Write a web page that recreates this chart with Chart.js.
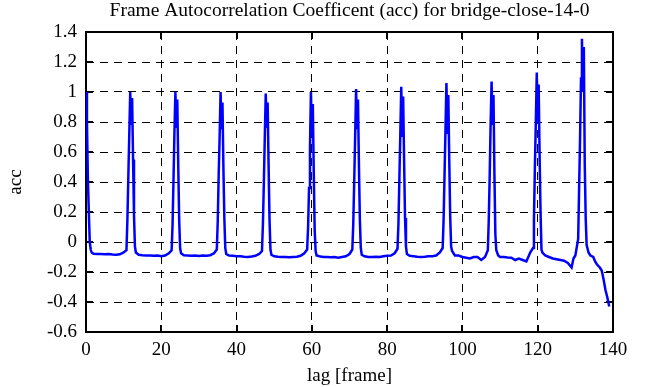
<!DOCTYPE html>
<html>
<head>
<meta charset="utf-8">
<script src="https://cdn.jsdelivr.net/npm/chart.js"></script>
<style>
  body { margin: 0; background: #fff; }
  #wrap { width: 661px; height: 387px; }
</style>
</head>
<body>
<div id="wrap"><canvas id="myChart" width="661" height="387"></canvas></div>
<script>
// lag [frame] and acc values
var lag = [
  0, 0.25, 0.5, 0.75, 1, 1.25, 1.5, 2, 3, 4, 5, 6, 7, 8, 9, 10, 10.75,
  11, 11.25, 11.5, 11.75, 12, 12.25, 12.5, 12.75, 13, 13.25, 14, 15, 16, 17, 18, 19, 20, 21, 22, 22.75,
  23, 23.25, 23.5, 23.75, 24, 24.25, 24.5, 24.75, 25, 25.25, 26, 27, 28, 29, 30, 31, 32, 33, 34, 34.75,
  35, 35.25, 35.5, 35.75, 36, 36.25, 36.5, 36.75, 37, 37.25, 38, 39, 40, 41, 42, 43, 44, 45, 46, 46.75,
  47, 47.25, 47.5, 47.75, 48, 48.25, 48.5, 48.75, 49, 49.25, 50, 51, 52, 53, 54, 55, 56, 57, 58, 58.75,
  59, 59.25, 59.5, 59.75, 60, 60.25, 60.5, 60.75, 61, 61.25, 62, 63, 64, 65, 66, 67, 68, 69, 70, 70.75,
  71, 71.25, 71.5, 71.75, 72, 72.25, 72.5, 72.75, 73, 73.25, 74, 75, 76, 77, 78, 79, 80, 81, 82, 82.75,
  83, 83.25, 83.5, 83.75, 84, 84.25, 84.5, 84.75, 85, 85.25, 86, 87, 88, 89, 90, 91, 92, 93, 94, 94.75,
  95, 95.25, 95.5, 95.75, 96, 96.25, 96.5, 96.75, 97, 97.25, 98, 99, 100, 101, 102, 103, 104, 105, 106, 106.75,
  107, 107.25, 107.5, 107.75, 108, 108.25, 108.5, 108.75, 109, 109.5, 110, 111, 112, 113, 114, 115, 116, 117, 118, 118.75,
  119, 119.25, 119.5, 119.75, 120, 120.25, 120.5, 120.75, 121, 121.25, 122, 123, 124, 125, 126, 127, 128, 129, 129.5, 130, 130.75,
  131, 131.25, 131.5, 131.75, 132, 132.25, 132.5, 132.75, 133, 133.5, 134, 134.75, 135.25, 135.75, 136.5, 137, 137.5, 138, 138.5, 139
];
var acc = [
  1.0, 0.80, 0.42, 0.20, 0.0, -0.05, -0.07, -0.078, -0.080, -0.080, -0.082, -0.080, -0.084, -0.085, -0.082, -0.070, -0.055,
  0.15, 0.44, 0.72, 1.0, 0.78, 0.96, 0.55, 0.18, -0.03, -0.07, -0.085, -0.088, -0.09, -0.09, -0.092, -0.09, -0.095, -0.09, -0.075, -0.055,
  0.12, 0.42, 0.74, 1.0, 0.76, 0.95, 0.52, 0.15, -0.04, -0.075, -0.088, -0.09, -0.092, -0.09, -0.093, -0.09, -0.092, -0.088, -0.075, -0.05,
  0.14, 0.45, 0.70, 1.0, 0.75, 0.93, 0.50, 0.16, -0.04, -0.08, -0.09, -0.092, -0.095, -0.095, -0.098, -0.1, -0.097, -0.092, -0.08, -0.06,
  0.12, 0.40, 0.70, 0.99, 0.76, 0.93, 0.52, 0.15, -0.05, -0.085, -0.095, -0.098, -0.1, -0.1, -0.102, -0.1, -0.098, -0.092, -0.075, -0.05,
  0.10, 0.36, 0.62, 1.0, 0.72, 0.92, 0.47, 0.08, -0.06, -0.09, -0.095, -0.1, -0.1, -0.102, -0.1, -0.105, -0.1, -0.095, -0.08, -0.05,
  0.12, 0.40, 0.70, 1.02, 0.76, 0.95, 0.52, 0.15, -0.04, -0.085, -0.095, -0.1, -0.1, -0.098, -0.1, -0.095, -0.092, -0.09, -0.075, -0.045,
  0.12, 0.42, 0.72, 1.035, 0.70, 0.97, 0.55, 0.16, -0.03, -0.08, -0.092, -0.095, -0.098, -0.1, -0.098, -0.095, -0.095, -0.09, -0.07, -0.04,
  0.15, 0.45, 0.75, 1.06, 0.72, 0.98, 0.55, 0.17, -0.03, -0.06, -0.09, -0.09, -0.1, -0.105, -0.11, -0.1, -0.1, -0.12, -0.1, -0.055,
  0.15, 0.45, 0.80, 1.07, 0.78, 0.98, 0.45, 0.05, -0.055, -0.09, -0.1, -0.1, -0.103, -0.105, -0.12, -0.11, -0.12, -0.13, -0.07, -0.04,
  0.15, 0.50, 0.80, 1.13, 0.80, 1.05, 0.58, 0.20, -0.05, -0.07, -0.09, -0.1, -0.11, -0.115, -0.12, -0.125, -0.14, -0.17, -0.11, -0.09, 0.02,
  0.36, 0.69, 1.09, 1.355, 1.00, 1.30, 0.51, 0.155, -0.02, -0.07, -0.09, -0.10, -0.13, -0.15, -0.17, -0.19, -0.25, -0.32, -0.37, -0.43
];
var xTicks = [0, 20, 40, 60, 80, 100, 120, 140];
var yTicks = [-0.6, -0.4, -0.2, 0, 0.2, 0.4, 0.6, 0.8, 1, 1.2, 1.4];

var titleText = "Frame Autocorrelation Coefficent (acc) for bridge-close-14-0";
var serif = "'Liberation Serif', 'Times New Roman', serif";

// gnuplot-like frame with inner ticks, plus the title
var framePlugin = {
  id: 'frame',
  beforeDatasetsDraw: function(chart){
    var c = chart.ctx, a = chart.chartArea;
    var xs = chart.scales.x, ys = chart.scales.y;
    c.save();
    c.strokeStyle = '#000';
    c.lineWidth = 2;
    c.beginPath();
    xTicks.forEach(function(v){
      var px = Math.round(xs.getPixelForValue(v));
      c.moveTo(px, a.bottom); c.lineTo(px, a.bottom - 7);
      c.moveTo(px, a.top); c.lineTo(px, a.top + 7);
    });
    yTicks.forEach(function(v){
      var py = Math.round(ys.getPixelForValue(v));
      c.moveTo(a.left, py); c.lineTo(a.left + 7, py);
      c.moveTo(a.right, py); c.lineTo(a.right - 7, py);
    });
    c.stroke();
    c.strokeRect(a.left, a.top, a.right - a.left, a.bottom - a.top);
    c.restore();
  },
  afterDraw: function(chart){
    var c = chart.ctx, a = chart.chartArea;
    c.save();
    c.fillStyle = '#000';
    c.font = "19.5px " + serif;
    c.textAlign = 'center';
    c.textBaseline = 'middle';
    c.fillText(titleText, (a.left + a.right) / 2, 11);
    c.restore();
  }
};

var ctx = document.getElementById('myChart').getContext('2d');
var chart = new Chart(ctx, {
  type: 'line',
  data: {
    datasets: [{
      label: 'acc',
      data: lag.map(function(x, i){ return {x: x, y: acc[i]}; }),
      borderColor: '#0000ff',
      borderWidth: 2.5,
      pointRadius: 0,
      tension: 0,
      fill: false
    }]
  },
  options: {
    responsive: false,
    animation: false,
    layout: { padding: { top: 32, right: 48, left: 0, bottom: 0 } },
    plugins: {
      legend: { display: false },
      tooltip: { enabled: false }
    },
    scales: {
      x: {
        type: 'linear',
        min: 0, max: 140,
        afterFit: function(s){ s.height = 55; },
        afterBuildTicks: function(s){ s.ticks = xTicks.map(function(v){ return {value: v}; }); },
        ticks: { color: '#000', padding: 7, font: { family: serif, size: 19 }, maxRotation: 0 },
        grid: { color: '#000', lineWidth: 1, drawTicks: false },
        border: { display: false, dash: [8, 6] },
        title: { display: true, text: 'lag [frame]', color: '#000', font: { family: serif, size: 19 }, padding: { top: 0, bottom: 0 } }
      },
      y: {
        min: -0.6, max: 1.4,
        afterFit: function(s){ s.width = 86; },
        afterBuildTicks: function(s){ s.ticks = yTicks.map(function(v){ return {value: v}; }); },
        ticks: {
          color: '#000', padding: 9, font: { family: serif, size: 19 },
          callback: function(v){ return String(Math.round(v * 10) / 10); }
        },
        grid: { color: '#000', lineWidth: 1, drawTicks: false },
        border: { display: false, dash: [8, 6] },
        title: { display: true, text: 'acc', color: '#000', font: { family: serif, size: 19 }, padding: { top: 5, bottom: 0 } }
      }
    }
  },
  plugins: [framePlugin]
});
</script>
</body>
</html>
